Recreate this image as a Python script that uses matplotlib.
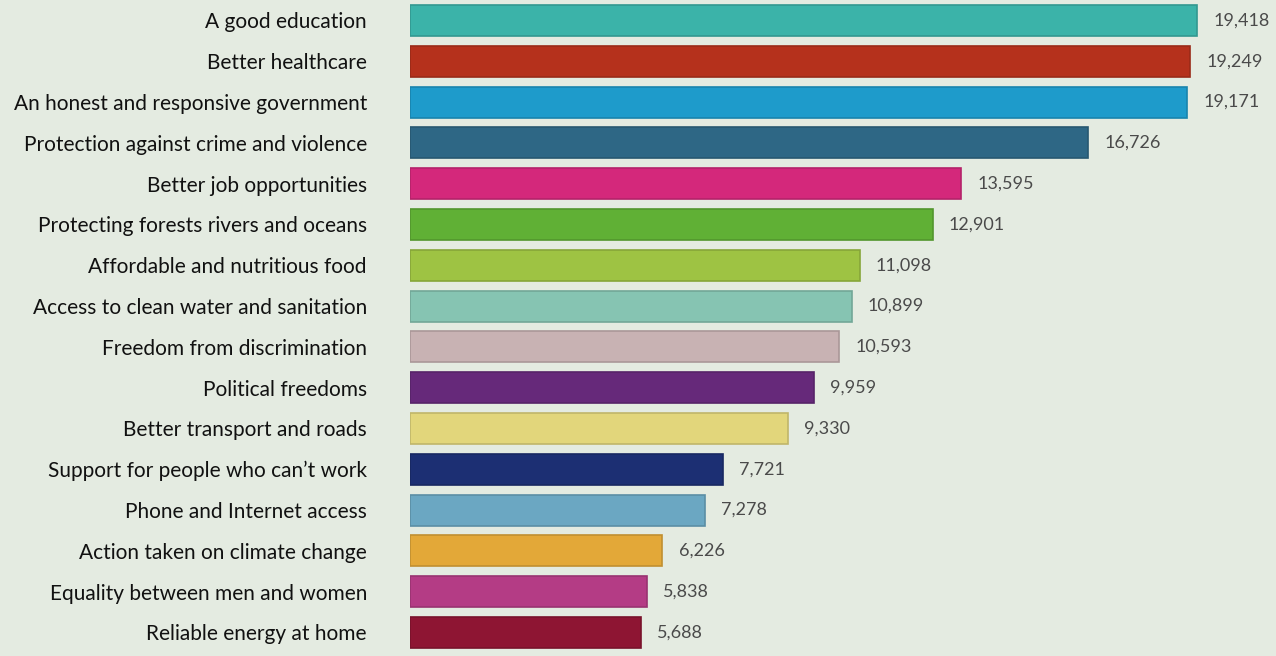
import matplotlib
matplotlib.use("Agg")
import matplotlib.pyplot as plt
import matplotlib.colors as mcolors

categories = [
    "A good education",
    "Better healthcare",
    "An honest and responsive government",
    "Protection against crime and violence",
    "Better job opportunities",
    "Protecting forests rivers and oceans",
    "Affordable and nutritious food",
    "Access to clean water and sanitation",
    "Freedom from discrimination",
    "Political freedoms",
    "Better transport and roads",
    "Support for people who can\u2019t work",
    "Phone and Internet access",
    "Action taken on climate change",
    "Equality between men and women",
    "Reliable energy at home",
]
votes = [19418, 19249, 19171, 16726, 13595, 12901, 11098, 10899,
         10593, 9959, 9330, 7721, 7278, 6226, 5838, 5688]
colors = ["#3bb3a9", "#b5311c", "#1e9bcb", "#2e6785", "#d4287b", "#60b035",
          "#9ec343", "#86c4b2", "#c8b2b3", "#66297a", "#e2d67b", "#1c2f73",
          "#6ba7c2", "#e3a838", "#b43c85", "#8e1533"]

bg = "#e4ebe1"

def darker(c, f=0.85):
    r, g, b = mcolors.to_rgb(c)
    return (r * f, g * f, b * f)

fig = plt.figure(figsize=(12.76, 6.56), dpi=100)
fig.patch.set_facecolor(bg)
ax = fig.add_axes([410 / 1276, 0, 866 / 1276, 1])
ax.set_facecolor(bg)

ypos = list(range(len(categories)))
ax.barh(ypos, votes, height=0.76, color=colors,
        edgecolor=[darker(c) for c in colors], linewidth=1.2)

for y, v in zip(ypos, votes):
    ax.text(v + 400, y, f"{v:,}", va="center", ha="left",
            fontsize=13, family="Lato", color="#4a4a4a")

ax.set_xlim(0, 21370)
ax.set_ylim(15.576, -0.502)
ax.set_yticks(ypos)
ax.set_yticklabels(categories, fontsize=15, family="Lato", color="#111111")
ax.tick_params(axis="y", length=0, pad=31)
ax.set_xticks([])
for s in ax.spines.values():
    s.set_visible(False)

fig.savefig("out.png", dpi=100, facecolor=bg)
